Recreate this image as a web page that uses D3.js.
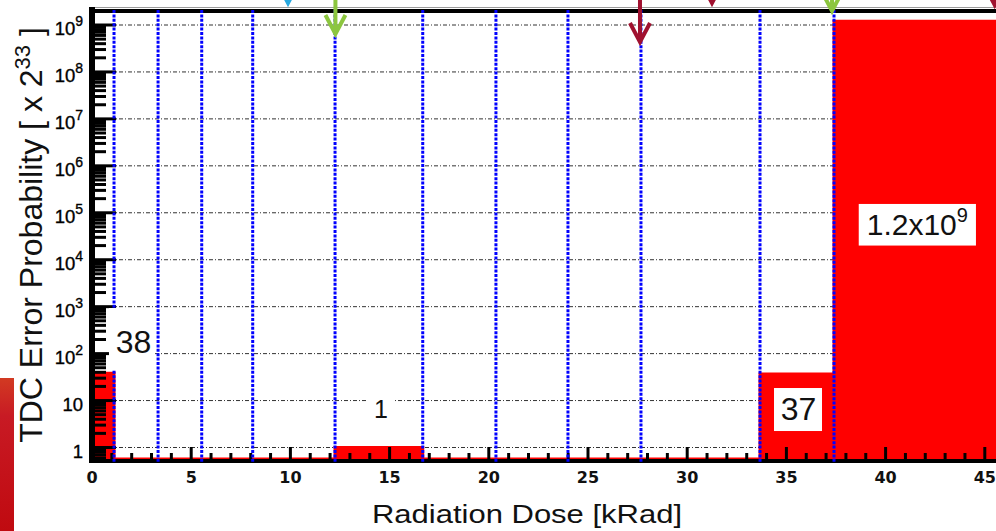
<!DOCTYPE html>
<html><head><meta charset="utf-8">
<script src="https://cdn.jsdelivr.net/npm/d3@7"></script>
<style>body{margin:0;background:#fff;overflow:hidden}svg{display:block}</style>
</head><body>
<svg id="chart" width="996" height="531"></svg>
<script>
// ---------------- data ----------------
const binEdges   = [0, 1.11, 12.25, 16.67, 33.67, 37.40, 46.5];   // kRad
const binValues  = [38, 0, 1, 0, 37, 1.2e9];                      // error probability (x 2^33)
const runBoundaries = [1.11, 3.33, 5.53, 8.10, 12.25, 16.67, 20.36, 23.99, 27.67, 33.67, 37.40];
const xTickValues = [0, 5, 10, 15, 20, 25, 30, 35, 40, 45];
const xTickLabels = ["0", "5", "10", "15", "20", "25", "30", "35", "40", "45"];
const yTickValues = [1, 10, 1e2, 1e3, 1e4, 1e5, 1e6, 1e7, 1e8, 1e9];
const yTickBase   = ["1", "10", "10", "10", "10", "10", "10", "10", "10", "10"];
const yTickExp    = ["", "", "2", "3", "4", "5", "6", "7", "8", "9"];
const labelTexts  = ["38", "1", "37", "1.2x10"];
const labelSups   = ["", "", "", "9"];
const labelX      = [2.09, 14.57, 35.61, 41.6];      // kRad
const labelY      = [103, 4.25, 3.85, 3.37e4];        // value at text baseline
const arrowX      = [9.88, 12.27, 27.62, 31.25, 37.3, 45.5];
const arrowColor  = ["#29a9e0", "#8cc63f", "#a0112f", "#a0112f", "#8cc63f", "#a0112f"];
const xTitle = "Radiation Dose [kRad]";
const yTitleMain = "TDC Error Probability [ x 2", yTitleSup = "33", yTitleEnd = " ]";

// ---------------- layout / style ----------------
const W = 996, H = 531;
const plotLeft = 92, plotTop = 11, plotBottom = 459;
const arrowTip   = [3, 34, 42, 3, 11, 5];
const labelSize  = [32, 25, 32, 30];
const labelPad   = [[6.7,3.5,16,10],[7,7,10,4],[6.7,5.7,3,4],[8,8,0,4.6]];

const svg = d3.select("#chart");
const x = d3.scaleLinear().domain([0, 45]).range([plotLeft, plotLeft + 45 * 19.84]);
const y = d3.scaleLog().domain([1, 1e9]).range([447.5, 25]);
const yv = v => v > 0 ? y(v) : plotBottom;

// left decorative strip
const defs = svg.append("defs");
const g1 = defs.append("linearGradient").attr("id","strip").attr("x1",0).attr("y1",0).attr("x2",0).attr("y2",1);
g1.append("stop").attr("offset","0").attr("stop-color","#d23a22");
g1.append("stop").attr("offset","0.25").attr("stop-color","#c81a24");
g1.append("stop").attr("offset","1").attr("stop-color","#c00a10");
svg.append("rect").attr("x",0).attr("y",378).attr("width",14).attr("height",H-378).attr("fill","url(#strip)");

defs.append("clipPath").attr("id","plot").append("rect")
  .attr("x", plotLeft).attr("y", plotTop).attr("width", W - plotLeft + 10).attr("height", plotBottom - plotTop + 2);

// gridlines
svg.append("g").selectAll("line").data(yTickValues).join("line")
  .attr("x1", plotLeft).attr("x2", W).attr("y1", d => y(d)).attr("y2", d => y(d))
  .attr("stroke", "#333").attr("stroke-width", 1).attr("stroke-dasharray", "4,2,1,2");

// histogram
const pts = [[x(binEdges[0]), plotBottom]];
binValues.forEach((v, i) => { pts.push([x(binEdges[i]), yv(v)]); pts.push([x(binEdges[i+1]), yv(v)]); });
pts.push([x(binEdges[binEdges.length-1]), plotBottom]);
svg.append("path").attr("clip-path","url(#plot)")
  .attr("d", d3.line()(pts) + "Z")
  .attr("fill", "#ff0000").attr("stroke", "#ff0000").attr("stroke-width", 3).attr("stroke-linejoin","miter");

// y ticks (log minor + major)
const minor = [];
for (let e = -1; e <= 9; e++) for (let k = 2; k <= 9; k++) {
  const v = k * Math.pow(10, e);
  if (y(v) >= plotTop && y(v) <= plotBottom) minor.push(v);
}
const ytk = svg.append("g");
ytk.selectAll(".mn").data(minor).join("line").attr("class","mn")
  .attr("x1", plotLeft).attr("x2", 106).attr("y1", d => y(d)).attr("y2", d => y(d))
  .attr("stroke", "#000").attr("stroke-width", 3);
ytk.selectAll(".mj").data(yTickValues).join("line").attr("class","mj")
  .attr("x1", plotLeft).attr("x2", 116).attr("y1", d => y(d)).attr("y2", d => y(d))
  .attr("stroke", "#000").attr("stroke-width", 3);

// x ticks
const xMinor = d3.range(0, 46).filter(v => v % 5 !== 0);
const xtk = svg.append("g");
xtk.selectAll(".mn").data(xMinor).join("line").attr("class","mn")
  .attr("x1", d => x(d)).attr("x2", d => x(d)).attr("y1", plotBottom).attr("y2", 453)
  .attr("stroke", "#000").attr("stroke-width", 3);
xtk.selectAll(".mj").data(xTickValues).join("line").attr("class","mj")
  .attr("x1", d => x(d)).attr("x2", d => x(d)).attr("y1", plotBottom).attr("y2", 447)
  .attr("stroke", "#000").attr("stroke-width", 3);

// frame
svg.append("line").attr("x1", 89).attr("x2", W).attr("y1", 7.5).attr("y2", 7.5).attr("stroke", "#9a9a9a").attr("stroke-width", 1);
svg.append("line").attr("x1", 89).attr("x2", W).attr("y1", plotTop).attr("y2", plotTop).attr("stroke", "#000").attr("stroke-width", 4);
svg.append("line").attr("x1", 89).attr("x2", W).attr("y1", 461).attr("y2", 461).attr("stroke", "#000").attr("stroke-width", 4);
svg.append("line").attr("x1", plotLeft).attr("x2", plotLeft).attr("y1", 7).attr("y2", 463).attr("stroke", "#000").attr("stroke-width", 6);

// blue run boundaries
svg.append("g").selectAll("line").data(runBoundaries).join("line")
  .attr("x1", d => x(d)).attr("x2", d => x(d)).attr("y1", 10).attr("y2", 463)
  .attr("stroke", "#0000ff").attr("stroke-width", 3).attr("stroke-dasharray", "3,1.4");

// y tick labels
const ylab = svg.append("g").attr("font-family", "'Liberation Sans', Arial, sans-serif").attr("fill", "#000");
yTickValues.forEach((v, i) => {
  const t = ylab.append("text").attr("x", 83).attr("y", y(v) + 10).attr("text-anchor", "end").attr("font-size", 18.5)
    .attr("stroke", "#000").attr("stroke-width", 0.35);
  t.append("tspan").text(yTickBase[i]);
  if (yTickExp[i]) t.append("tspan").attr("dy", -9).attr("font-size", 14).text(yTickExp[i]);
});

// x tick labels
svg.append("g").selectAll("text").data(xTickValues).join("text")
  .attr("x", d => x(d)).attr("y", 483).attr("text-anchor", "middle")
  .attr("font-family", "'DejaVu Sans', sans-serif").attr("font-weight", "bold").attr("font-size", 16)
  .attr("fill", "#111").text((d, i) => xTickLabels[i]);

// axis titles
svg.append("text").attr("x", 527).attr("y", 523).attr("text-anchor", "middle")
  .attr("font-family", "'Liberation Sans', Arial, sans-serif").attr("font-size", 25)
  .attr("textLength", 310).attr("lengthAdjust", "spacingAndGlyphs").attr("fill", "#111").text(xTitle);
const yt2 = svg.append("text").attr("transform", "translate(42,235) rotate(-90)").attr("text-anchor", "middle")
  .attr("font-family", "'Liberation Sans', Arial, sans-serif").attr("font-size", 32).attr("fill", "#111");
yt2.append("tspan").text(yTitleMain);
yt2.append("tspan").attr("dy", -12).attr("font-size", 22).text(yTitleSup);
yt2.append("tspan").attr("dy", 12).text(yTitleEnd);

// bar labels with white boxes
labelTexts.forEach((s, i) => {
  const g = svg.append("g");
  const r = g.append("rect").attr("fill", "#fff");
  const t = g.append("text").attr("x", x(labelX[i])).attr("y", y(labelY[i])).attr("text-anchor", "middle")
    .attr("font-family", "'Liberation Sans', Arial, sans-serif").attr("font-size", labelSize[i]).attr("fill", "#111");
  t.append("tspan").text(s);
  if (labelSups[i]) t.append("tspan").attr("dy", -13).attr("font-size", 20).text(labelSups[i]);
  const b = t.node().getBBox(), p = labelPad[i];
  r.attr("x", b.x - p[0]).attr("y", b.y - p[2]).attr("width", b.width + p[0] + p[1]).attr("height", b.height + p[2] + p[3]);
});

// arrows at top
const ag = svg.append("g").attr("fill", "none").attr("stroke-width", 4);
arrowX.forEach((a, i) => {
  const cx = x(a), tip = arrowTip[i];
  ag.append("path").attr("stroke", arrowColor[i])
    .attr("d", `M${cx},-2L${cx},${tip}M${cx-10},${tip-19}L${cx},${tip}L${cx+10},${tip-19}`);
});
</script>
</body></html>
